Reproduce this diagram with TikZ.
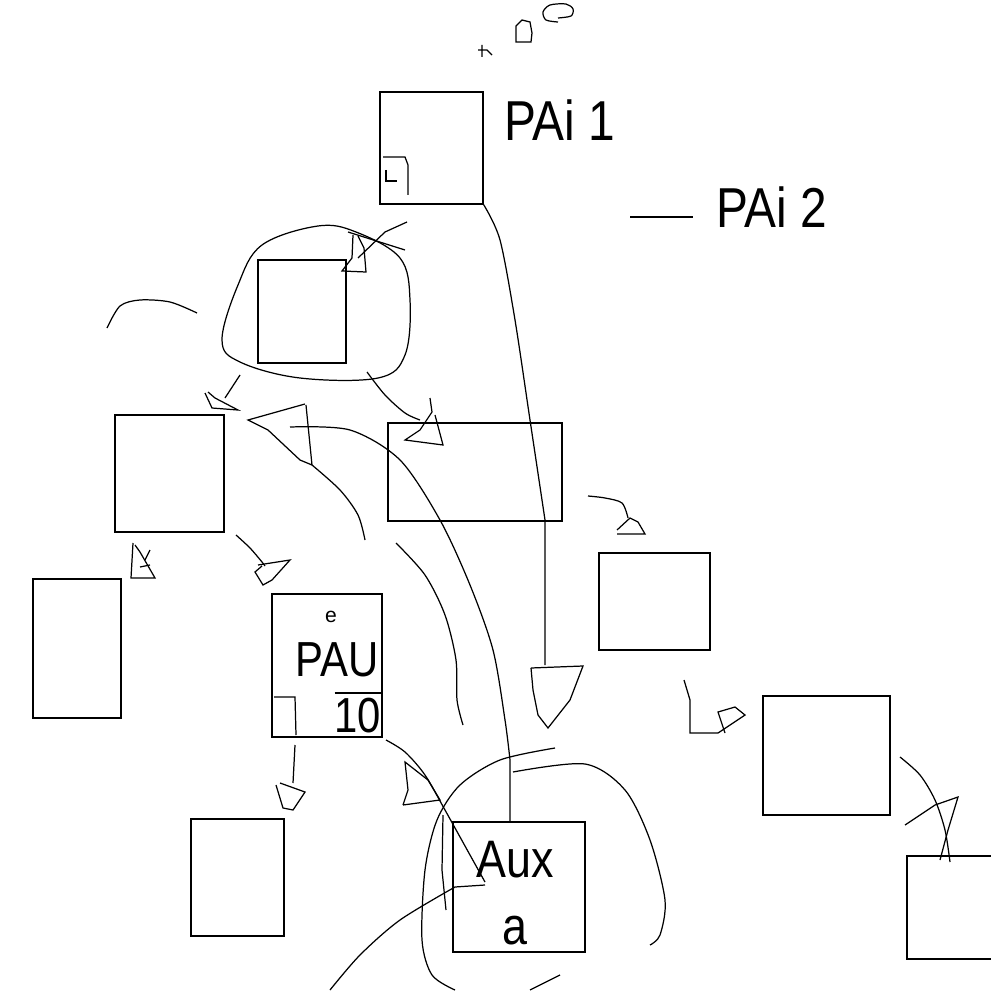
\documentclass[tikz,border=0pt]{standalone}
\usepackage{fontspec}
\setmainfont{Liberation Sans}
\usetikzlibrary{positioning}
\tikzset{
  box/.style={
    rectangle,
    draw=black,
    line width=0.35pt,
    inner sep=0pt
  },
  scrawl/.style={line width=0.35pt},
  label/.style={
    font=\fontsize{16}{18}\selectfont,
    xscale=0.85,
    inner sep=0pt
  }
}

\begin{document}
\begin{tikzpicture}[x=0.01cm, y=-0.01cm, scrawl]
    \useasboundingbox (0,0) rectangle (991,991);

    % boxes
    \node[box, minimum width=1.03cm, minimum height=1.12cm] (pai) at (431.5,148) {};
    \node[box, minimum width=0.88cm, minimum height=1.03cm] (core) at (302,311.5) {};
    \node[box, minimum width=1.09cm, minimum height=1.17cm] (left) at (169.5,473.5) {};
    \node[box, minimum width=1.74cm, minimum height=0.98cm] (mid) at (475,472) {};
    \node[box, minimum width=1.11cm, minimum height=0.97cm] (right) at (654.5,601.5) {};
    \node[box, minimum width=0.88cm, minimum height=1.39cm] (far) at (77,648.5) {};
    \node[box, minimum width=1.10cm, minimum height=1.43cm] (pau) at (327,665.5) {};
    \node[box, minimum width=1.27cm, minimum height=1.19cm] (east) at (826.5,755.5) {};
    \node[box, minimum width=0.93cm, minimum height=1.17cm] (low) at (237.5,877.5) {};
    \node[box, minimum width=1.32cm, minimum height=1.30cm] (aux) at (519,887) {};
    \node[box, minimum width=0.90cm, minimum height=1.03cm] (edge) at (952,907.5) {};

    % labels
    \node[label] (pai1) at (560,120) {PAi 1};
    \coordinate (dash) at (630,217);
    \node[label] (pai2) at (772,207) {PAi 2};
    \draw (dash) -- ++(63,0);
    \node[font=\fontsize{6}{6}\selectfont] (pe) at (331,617) {e};
    \node[label, font=\fontsize{14}{15}\selectfont] (paut) at (337,660) {PAU};
    \node[label, font=\fontsize{14}{15}\selectfont] (paun) at (358,712) {$\overline{\mbox{10}}$};
    \node[label, align=center, font=\fontsize{15}{19}\selectfont] (auxt) at (515,893) {Aux\\a};

    % marks in boxes
    \draw (383,157) -- (405,157) -- (408,165) -- (408,195);
    \draw (386,170) -- (386,181) -- (397,181);
    \draw (274,697) -- (295,697) -- (296,735);

    % top scribbles
    \draw (516,42) -- (516,26) -- (522,20) -- (530,22) -- (532,33) -- (531,42) -- cycle;
    \draw plot[smooth, tension=0.5] coordinates {(558,22) (546,20) (543,12) (550,5) (566,4) (573,9) (571,16) (558,18)};
    \draw (482,45) -- (482,57) (478,50) -- (487,50) -- (492,55);

    % blob round core
    \draw plot[smooth cycle, tension=0.6] coordinates {(222,340) (238,285) (262,245) (318,226) (356,232) (400,258) (410,300) (405,355) (378,378) (300,378) (240,362)};
    \draw (407,222) -- (385,232) -- (358,258);
    \draw (348,232) -- (405,250);
    \draw (353,235) -- (352,258) -- (342,271) -- (366,272) -- (364,248) -- (358,236);
    \draw plot[smooth] coordinates {(107,328) (120,306) (140,300) (170,302) (197,313)};

    % core to left
    \draw (240,375) -- (225,398);
    \draw (205,393) -- (212,408) -- (238,410) -- (215,398) -- (208,392);
    % core to mid
    \draw plot[smooth] coordinates {(367,372) (385,395) (405,413) (420,420)};
    \draw (430,398) -- (432,412) -- (420,430) -- (405,440) -- (443,445) -- (435,415);

    % big left triangle and long line to aux
    \draw (305,404) -- (248,420) -- (268,430) -- (300,460) -- (312,465) -- (306,405);
    \draw plot[smooth] coordinates {(312,465) (340,490) (358,515) (365,540)};
    \draw plot[smooth] coordinates {(290,427) (350,430) (400,460) (440,520) (470,585) (493,650) (505,720) (510,760)} -- (aux.north -| 510,0);
    \draw plot[smooth] coordinates {(396,543) (425,575) (445,615) (456,660) (457,700) (463,725)};

    % pai down to right side
    \draw plot[smooth] coordinates {(pai.south east) (500,240) (515,320) (530,420) (545,520)} -- (545,665);
    \draw (531,668) -- (583,666) -- (570,700) -- (548,728) -- (538,715) -- (533,690) -- (531,668);

    % mid to right
    \draw plot[smooth] coordinates {(588,496) (605,498) (622,503) (628,518)};
    \draw (617,530) -- (630,518) -- (638,522) -- (645,534) -- (617,534);

    % left to far and left to pau
    \draw (133,543) -- (131,578) -- (155,578) -- (140,552) -- (135,545);
    \draw (145,560) -- (150,550) (140,567) -- (150,565);
    \draw plot[smooth] coordinates {(236,535) (250,548) (262,562) (265,566)};
    \draw (258,565) -- (290,560) -- (272,580) -- (263,585) -- (255,572) -- (262,566);

    % right to east
    \draw (684,680) -- (690,700) -- (690,733) -- (718,733);
    \draw (718,733) -- (745,715) -- (735,707) -- (718,712) -- (725,733);

    % east to edge
    \draw plot[smooth] coordinates {(900,757) (920,775) (935,800) (945,830) (950,862)};
    \draw (905,825) -- (935,805) -- (958,797) -- (948,830) -- (940,860);

    % pau to low
    \draw (295,745) -- (293,783);
    \draw (280,783) -- (305,792) -- (293,810) -- (283,808) -- (276,785);

    % pau to aux
    \draw plot[smooth] coordinates {(386,740) (405,752) (425,775) (445,810) (470,855) (485,882)};
    \draw (403,805) -- (440,800) -- (428,780) -- (405,762) -- (408,790) -- (403,805);

    % blob round aux
    \draw plot[smooth] coordinates {(555,748) (500,760) (460,785) (437,820) (425,870) (422,940) (432,975) (455,990)};
    \draw plot[smooth] coordinates {(513,772) (585,764) (625,790) (650,840) (665,900) (660,935) (650,945)};
    \draw plot[smooth] coordinates {(330,990) (360,955) (400,920) (455,887)} -- (485,885);
    \draw (443,815) -- (442,870) -- (446,910);
    \draw (530,990) -- (560,975);
\end{tikzpicture}
\end{document}
